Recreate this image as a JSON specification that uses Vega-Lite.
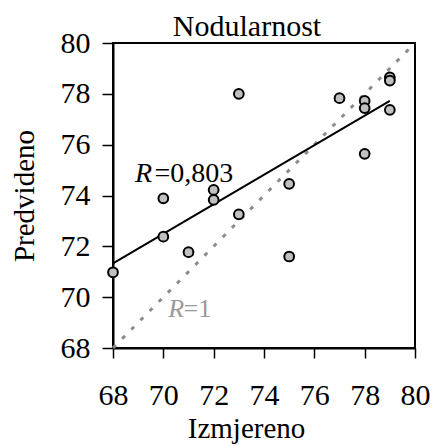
{
  "$schema": "https://vega.github.io/schema/vega-lite/v6.json",
  "autosize": "none",
  "width": 302,
  "height": 305,
  "padding": {"left": 113, "top": 43, "right": 19, "bottom": 98},
  "background": "white",
  "config": {
    "font": "Liberation Serif",
    "view": {"stroke": "black", "strokeWidth": 2},
    "axis": {
      "grid": false,
      "domainColor": "black",
      "domainWidth": 2,
      "tickColor": "black",
      "tickWidth": 1.5,
      "labelFlush": false,
      "labelOverlap": false,
      "labelFont": "Liberation Serif",
      "labelFontSize": 30,
      "labelColor": "black",
      "titleFont": "Liberation Serif",
      "titleFontSize": 29,
      "titleFontWeight": "normal",
      "titleColor": "black"
    }
  },
  "title": {
    "text": "Nodularnost",
    "font": "Liberation Serif",
    "fontSize": 30,
    "fontWeight": "normal",
    "color": "black",
    "frame": "group",
    "offset": 6,
    "dx": -17,
    "dy": 20
  },
  "datasets": {
    "points": [
      {"izm": 68, "pred": 70.98},
      {"izm": 70, "pred": 73.89},
      {"izm": 70, "pred": 72.38},
      {"izm": 71, "pred": 71.77},
      {"izm": 72, "pred": 74.22},
      {"izm": 72, "pred": 73.83},
      {"izm": 73, "pred": 78.0},
      {"izm": 73, "pred": 73.26},
      {"izm": 75, "pred": 74.46},
      {"izm": 75, "pred": 71.6},
      {"izm": 77, "pred": 77.83},
      {"izm": 78, "pred": 77.72},
      {"izm": 78, "pred": 77.44},
      {"izm": 78, "pred": 75.64},
      {"izm": 79, "pred": 78.65},
      {"izm": 79, "pred": 78.52},
      {"izm": 79, "pred": 77.37}
    ],
    "fit": [
      {"izm": 68, "pred": 71.33},
      {"izm": 79, "pred": 77.72}
    ],
    "ideal": [
      {"izm": 68, "pred": 68},
      {"izm": 80, "pred": 80}
    ]
  },
  "layer": [
    {
      "data": {"name": "ideal"},
      "mark": {"type": "line", "color": "#8c8c8c", "strokeWidth": 3, "strokeDash": [4, 9]},
      "encoding": {
        "x": {"field": "izm", "type": "quantitative", "scale": {"domain": [68, 80], "nice": false, "zero": false},
          "axis": {"title": "Izmjereno", "values": [68, 70, 72, 74, 76, 78, 80], "tickSize": 10, "labelPadding": 22, "titlePadding": 4, "titleX": 133}},
        "y": {"field": "pred", "type": "quantitative", "scale": {"domain": [68, 80], "nice": false, "zero": false},
          "axis": {"title": "Predvideno", "values": [68, 70, 72, 74, 76, 78, 80], "tickSize": 11, "labelPadding": 12, "titlePadding": 21}}
      }
    },
    {
      "data": {"name": "fit"},
      "mark": {"type": "line", "color": "black", "strokeWidth": 2},
      "encoding": {
        "x": {"field": "izm", "type": "quantitative"},
        "y": {"field": "pred", "type": "quantitative"}
      }
    },
    {
      "data": {"name": "points"},
      "mark": {"type": "point", "filled": true, "fill": "#c0c0c0", "stroke": "black", "strokeWidth": 2, "size": 95, "opacity": 1},
      "encoding": {
        "x": {"field": "izm", "type": "quantitative"},
        "y": {"field": "pred", "type": "quantitative"}
      }
    },
    {
      "data": {"values": [{"izm": 68.87, "pred": 74.55, "t": "R"}]},
      "mark": {"type": "text", "font": "Liberation Serif", "fontStyle": "italic", "fontSize": 28, "align": "left", "baseline": "alphabetic", "color": "black"},
      "encoding": {
        "x": {"field": "izm", "type": "quantitative"},
        "y": {"field": "pred", "type": "quantitative"},
        "text": {"field": "t"}
      }
    },
    {
      "data": {"values": [{"izm": 69.65, "pred": 74.55, "t": "=0,803"}]},
      "mark": {"type": "text", "font": "Liberation Serif", "fontSize": 28, "align": "left", "baseline": "alphabetic", "color": "black"},
      "encoding": {
        "x": {"field": "izm", "type": "quantitative"},
        "y": {"field": "pred", "type": "quantitative"},
        "text": {"field": "t"}
      }
    },
    {
      "data": {"values": [{"izm": 70.2, "pred": 69.23, "t": "R"}]},
      "mark": {"type": "text", "font": "Liberation Serif", "fontStyle": "italic", "fontSize": 26, "align": "left", "baseline": "alphabetic", "color": "#999999"},
      "encoding": {
        "x": {"field": "izm", "type": "quantitative"},
        "y": {"field": "pred", "type": "quantitative"},
        "text": {"field": "t"}
      }
    },
    {
      "data": {"values": [{"izm": 70.8, "pred": 69.23, "t": "=1"}]},
      "mark": {"type": "text", "font": "Liberation Serif", "fontSize": 26, "align": "left", "baseline": "alphabetic", "color": "#999999"},
      "encoding": {
        "x": {"field": "izm", "type": "quantitative"},
        "y": {"field": "pred", "type": "quantitative"},
        "text": {"field": "t"}
      }
    }
  ]
}
